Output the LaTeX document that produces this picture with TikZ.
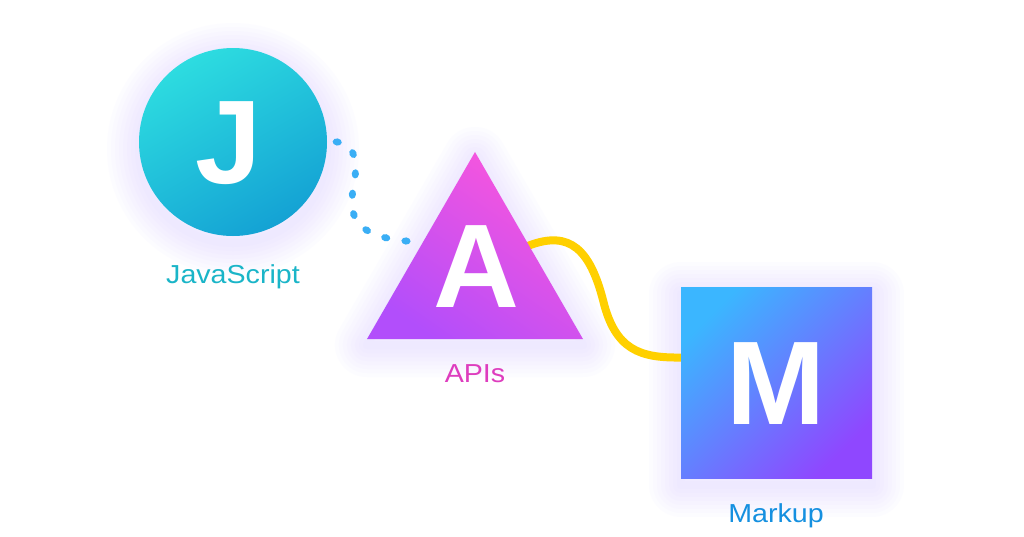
\documentclass[tikz,border=0pt]{standalone}
\usepackage{fontspec}
\setmainfont{Liberation Sans}
\newfontfamily\labelfont[FakeStretch=1.1]{Liberation Sans}
\usetikzlibrary{shapes.geometric,calc,decorations.markings}
\definecolor{jsA}{HTML}{2DDCE0}
\definecolor{jsB}{HTML}{14A2D4}
\definecolor{jsText}{HTML}{1AB5C8}
\definecolor{apA}{HTML}{FC56DB}
\definecolor{apB}{HTML}{B24EFB}
\definecolor{apText}{HTML}{DE3DBE}
\definecolor{mkA}{HTML}{3BB6FF}
\definecolor{mkB}{HTML}{8F47FF}
\definecolor{mkText}{HTML}{1590E0}
\definecolor{dotC}{HTML}{3AAEF5}
\definecolor{wire}{HTML}{FFD000}
\definecolor{glowC}{HTML}{D5C8FF}
\pgfdeclarelayer{glow}
\pgfdeclarelayer{links}
\pgfsetlayers{glow,links,main}
\begin{document}
\begin{tikzpicture}[x=1pt,y=-1pt,
  glowline/.style={draw=glowC, opacity=0.05, line join=round},
  letter/.style={text=white, anchor=base, inner sep=0pt, font=\bfseries\fontsize{119}{119}\selectfont},
  label/.style={anchor=base, inner sep=0pt, font=\labelfont\fontsize{26}{26}\selectfont},
  dotline/.style={decoration={markings,
      mark=between positions 0 and 0.9 step 0.142857 with {\fill[dotC] (0,0) ellipse[x radius=4.6pt, y radius=3.6pt];},
      mark=at position 0.9999 with {\fill[dotC] (0,0) ellipse[x radius=4.6pt, y radius=3.6pt];}},
    postaction={decorate}},
  wireline/.style={draw=wire, line width=8pt, line cap=round}
]
\begin{pgfonlayer}{glow}
\fill[white] (0,0) rectangle (1024,536);
\foreach \w in {64,56,...,8}{
  \draw[glowline, line width=\w pt] (233,149) circle[radius=94];
  \draw[glowline, line width=\w pt] (475,159) -- (367,345) -- (583,345) -- cycle;
  \draw[glowline, line width=\w pt] (681,294) rectangle (872,485);
}
\end{pgfonlayer}
\path[use as bounding box] (0,0) rectangle (1024,536);

% shapes
\node[circle, minimum size=188pt, inner sep=0pt, shading=axis, top color=jsA, bottom color=jsB, shading angle=30] (js) at (233,142) {};
\node[regular polygon, regular polygon sides=3, minimum size=249.4pt, inner sep=0pt, shading=axis, top color=apA, bottom color=apB, shading angle=-35] (api) at (475,276.7) {};
\node[rectangle, minimum size=191pt, inner sep=0pt, shading=axis, top color=mkA, bottom color=mkB, shading angle=45] (mk) at (776.5,382.5) {};

% letters
\node[letter] (jl) at (229,183) {J};
\node[letter] (al) at (476,307) {A};
\node[letter] (ml) at (776,424) {M};

% labels
\node[label, text=jsText] (jst) at (233,283) {JavaScript};
\node[label, text=apText] (apt) at (475,382) {APIs};
\node[label, text=mkText] (mkt) at (776,522) {Markup};

% connectors
\coordinate (dend) at (406,241);
\begin{pgfonlayer}{links}
\path[dotline] ([xshift=10pt]js.east) .. controls (357,145) and (358,165) .. (353,190) .. controls (349,215) and (354,236) .. (dend);
\draw[wireline] ($(api.corner 1)!0.5!(api.corner 3)$) .. controls (570,230) and (590,250) .. (603,300) .. controls (615,350) and (640,358) .. ([yshift=25pt]mk.west);
\end{pgfonlayer}
\end{tikzpicture}
\end{document}
